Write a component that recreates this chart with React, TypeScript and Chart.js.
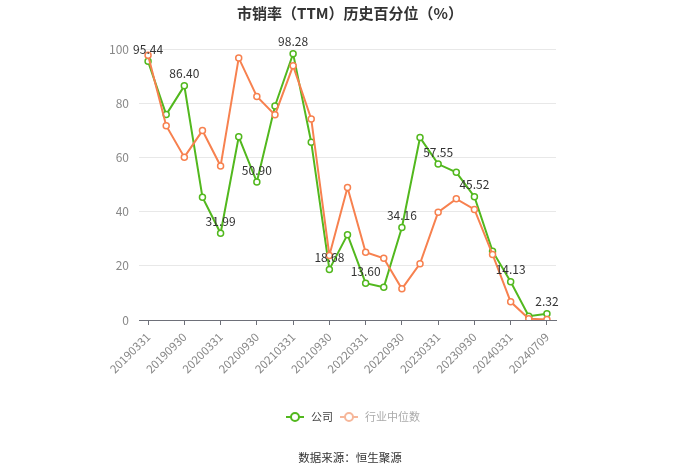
import React, { useEffect, useRef } from "react";
import { Chart, registerables } from "chart.js";

Chart.register(...registerables);

const categories = [
  "20190331", "20190630", "20190930", "20191231", "20200331", "20200630",
  "20200930", "20201231", "20210331", "20210630", "20210930", "20211231",
  "20220331", "20220630", "20220930", "20221231", "20230331", "20230630",
  "20230930", "20231231", "20240331", "20240630", "20240709",
];

const companyValues = [
  95.44, 75.8, 86.4, 45.3, 31.99, 67.6, 50.9, 79.0, 98.28, 65.6, 18.68, 31.5,
  13.6, 12.1, 34.16, 67.3, 57.55, 54.5, 45.52, 25.4, 14.13, 1.4, 2.32,
];

const industryValues = [
  97.7, 71.7, 60.1, 69.9, 56.8, 96.7, 82.5, 75.7, 93.8, 74.2, 23.8, 48.9,
  25.0, 22.8, 11.5, 20.8, 39.8, 44.7, 40.8, 24.2, 6.7, 0.5, 0.2,
];

const labeledIndexes = [0, 2, 4, 6, 8, 10, 12, 14, 16, 18, 20, 22];

const seriesNames = ["公司", "行业中位数"];
const titleText = "市销率（TTM）历史百分位（%）";
const sourceText = "数据来源：恒生聚源";
const yTicks = [0, 20, 40, 60, 80, 100];

const GREEN = "#52b81e";
const ORANGE = "#f7814f";
const FONT = "'Noto Sans CJK SC', 'Noto Sans', sans-serif";

export default function App() {
  const ref = useRef<HTMLCanvasElement>(null);

  useEffect(() => {
    if (!ref.current) return;

    const overlay = {
      id: "overlay",
      afterDatasetsDraw(chart: any) {
        const ctx = chart.ctx;
        const meta = chart.getDatasetMeta(0);
        ctx.save();
        ctx.font = `12px ${FONT}`;
        ctx.fillStyle = "#333333";
        ctx.textAlign = "center";
        ctx.textBaseline = "middle";
        labeledIndexes.forEach((i) => {
          const p = meta.data[i];
          if (!p) return;
          ctx.fillText(companyValues[i].toFixed(2), p.x, p.y - 12);
        });
        ctx.restore();
      },
      afterDraw(chart: any) {
        const ctx = chart.ctx;
        ctx.save();
        // title
        ctx.font = `bold 15px ${FONT}`;
        ctx.fillStyle = "#333333";
        ctx.textAlign = "center";
        ctx.textBaseline = "middle";
        ctx.fillText(titleText, 350, 13);

        // legend
        const drawItem = (x: number, color: string, text: string, textColor: string) => {
          const y = 417;
          ctx.strokeStyle = color;
          ctx.lineWidth = 2;
          ctx.beginPath();
          ctx.moveTo(x, y);
          ctx.lineTo(x + 18, y);
          ctx.stroke();
          ctx.beginPath();
          ctx.fillStyle = "#ffffff";
          ctx.arc(x + 9, y, 4, 0, Math.PI * 2);
          ctx.fill();
          ctx.stroke();
          ctx.font = `11px ${FONT}`;
          ctx.fillStyle = textColor;
          ctx.textAlign = "left";
          ctx.fillText(text, x + 25, y);
        };
        drawItem(286, GREEN, seriesNames[0], "#444444");
        drawItem(340, "#f6b79a", seriesNames[1], "#aaaaaa");

        // source
        ctx.font = `11.5px ${FONT}`;
        ctx.fillStyle = "#333333";
        ctx.textAlign = "center";
        ctx.fillText(sourceText, 350, 458);
        ctx.restore();
      },
    };

    const chart = new Chart(ref.current, {
      type: "line",
      data: {
        labels: categories,
        datasets: [
          {
            label: seriesNames[0],
            data: companyValues,
            borderColor: GREEN,
            backgroundColor: "#ffffff",
            pointBackgroundColor: "#ffffff",
            pointBorderColor: GREEN,
            pointRadius: 3,
            pointBorderWidth: 1.5,
            borderWidth: 2,
            tension: 0,
            order: 2,
          },
          {
            label: seriesNames[1],
            data: industryValues,
            borderColor: ORANGE,
            backgroundColor: "#ffffff",
            pointBackgroundColor: "#ffffff",
            pointBorderColor: ORANGE,
            pointRadius: 3,
            pointBorderWidth: 1.5,
            borderWidth: 2,
            tension: 0,
            order: 1,
          },
        ],
      },
      options: {
        responsive: false,
        animation: false,
        layout: { padding: { left: 0, right: 144, top: 49, bottom: 94 } },
        plugins: {
          legend: { display: false },
          title: { display: false },
          tooltip: { enabled: false },
        },
        scales: {
          x: {
            type: "category",
            offset: true,
            afterFit: (s: any) => { s.height = 60; },
            grid: {
              offset: false,
              drawOnChartArea: false,
              drawTicks: true,
              tickLength: 5,
              color: (c: any) => (c.index % 2 === 0 ? "#6e7079" : "rgba(0,0,0,0)"),
            },
            border: { display: true, color: "#6e7079", width: 1 },
            ticks: {
              autoSkip: false,
              minRotation: 45,
              maxRotation: 45,
              padding: 5,
              color: "#888888",
              font: { size: 11.5, family: FONT },
              callback: (_v: any, i: number) => (i % 2 === 0 ? categories[i] : ""),
            },
          },
          y: {
            min: 0,
            max: 100,
            afterFit: (s: any) => { s.width = 139; },
            afterBuildTicks: (s: any) => { s.ticks = yTicks.map((v) => ({ value: v })); },
            grid: { color: "#e8e8e8", drawTicks: false },
            border: { display: false },
            ticks: {
              padding: 10,
              color: "#888888",
              font: { size: 12, family: FONT },
            },
          },
        },
      },
      plugins: [overlay],
    });

    return () => chart.destroy();
  }, []);

  return (
    <div style={{ position: "fixed", left: 0, top: 0, width: 700, height: 474, background: "#ffffff" }}>
      <canvas ref={ref} width={700} height={474} style={{ width: 700, height: 474 }} />
    </div>
  );
}
